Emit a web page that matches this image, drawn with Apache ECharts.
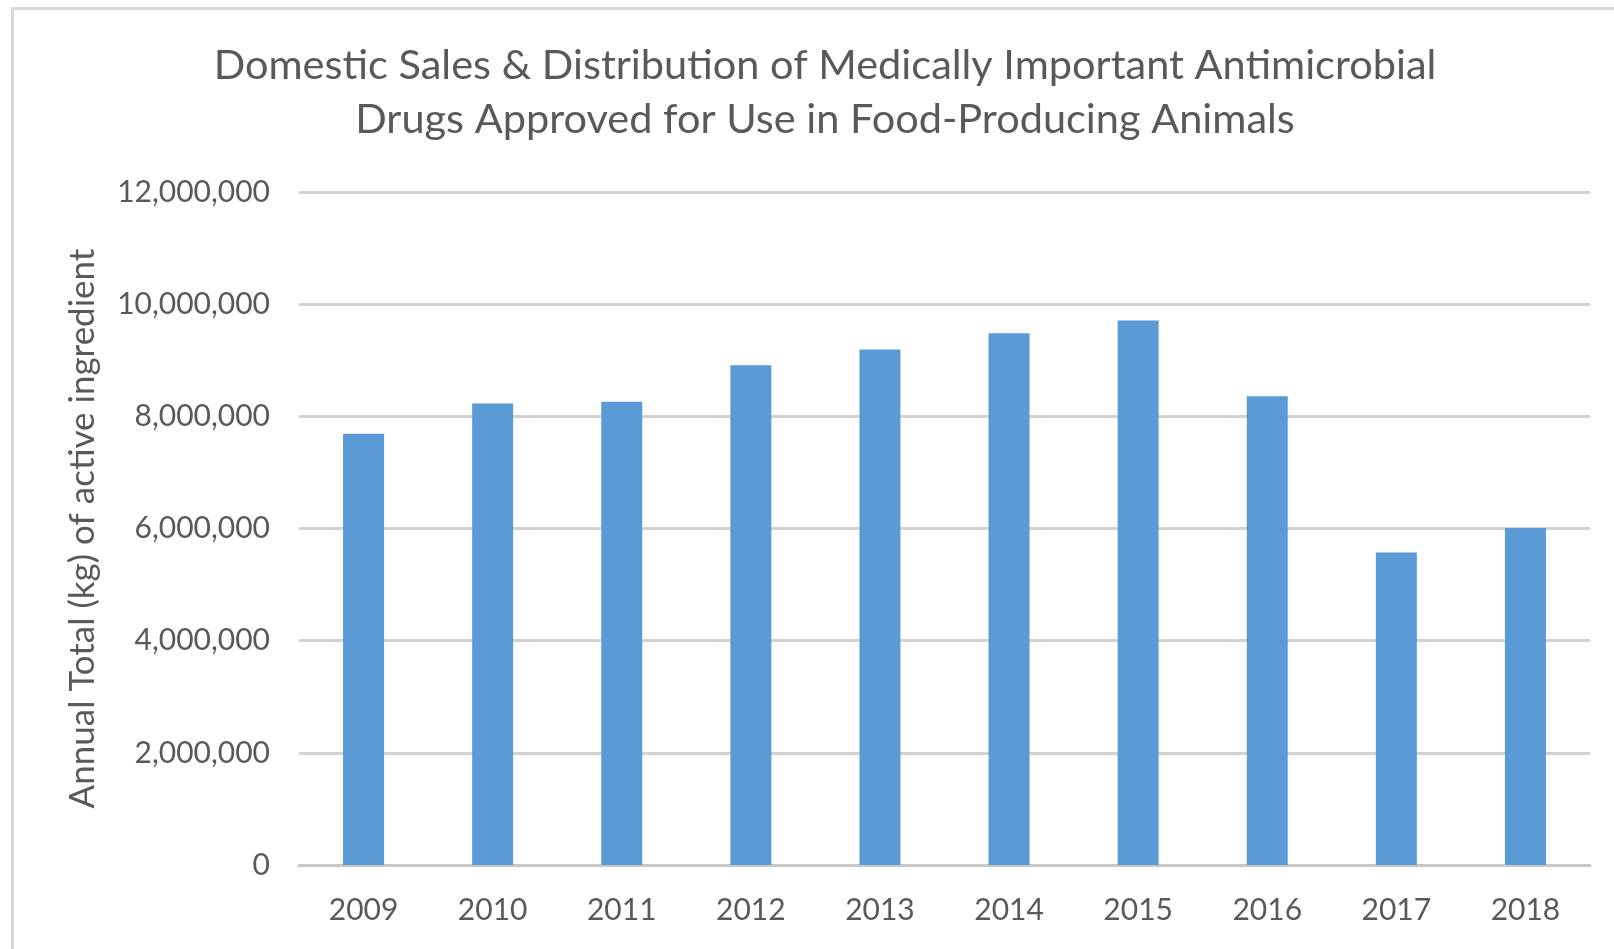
<!DOCTYPE html>
<html>
<head>
<meta charset="utf-8">
<style>
  html, body { margin: 0; padding: 0; background: #ffffff; }
  #chart { width: 1614px; height: 949px; }
</style>
<script src="https://cdn.jsdelivr.net/npm/echarts@6/dist/echarts.min.js"></script>
</head>
<body>
<div id="chart"></div>
<script>
// Annual kg of medically important antimicrobials sold for food-producing animals
const years = ['2009', '2010', '2011', '2012', '2013', '2014', '2015', '2016', '2017', '2018'];
const totalsKg = [7690000, 8230000, 8260000, 8910000, 9190000, 9480000, 9710000, 8360000, 5570000, 6010000];
const titleLines = [
  'Domestic Sales & Distribution of Medically Important Antimicrobial',
  'Drugs Approved for Use in Food-Producing Animals'
];
const yAxisName = 'Annual Total (kg) of active ingredient';

const FONT = 'Lato, "Open Sans", sans-serif';
const TEXT = '#595959';

const chart = echarts.init(document.getElementById('chart'), null, { renderer: 'canvas' });

chart.setOption({
  backgroundColor: '#ffffff',
  animation: false,
  title: {
    text: titleLines.join('\n'),
    left: 820,
    top: 33,
    textAlign: 'center',
    textStyle: {
      fontFamily: FONT,
      fontWeight: 'normal',
      fontSize: 41.5,
      lineHeight: 54.5,
      color: TEXT
    }
  },
  graphic: [{
    // chart area border (left and top edges visible)
    type: 'rect',
    left: 10,
    top: 6,
    shape: { width: 1700, height: 1000 },
    style: { fill: 'none', stroke: '#d9d9d9', lineWidth: 3 },
    silent: true,
    z: -1
  }],
  grid: {
    left: 299,
    right: 24,
    top: 192,
    bottom: 84,
    containLabel: false
  },
  xAxis: {
    type: 'category',
    data: years,
    axisLine: { show: true, lineStyle: { color: '#c8c8c8', width: 3 } },
    axisTick: { show: false },
    axisLabel: {
      fontFamily: FONT,
      fontSize: 30,
      color: TEXT,
      margin: 30
    }
  },
  yAxis: {
    type: 'value',
    min: 0,
    max: 12000000,
    interval: 2000000,
    name: yAxisName,
    nameLocation: 'middle',
    nameGap: 199,
    nameTextStyle: {
      fontFamily: FONT,
      fontSize: 35,
      color: TEXT
    },
    axisLine: { show: false },
    axisTick: { show: false },
    axisLabel: {
      fontFamily: FONT,
      fontSize: 30,
      color: TEXT,
      margin: 29,
      formatter: v => v.toLocaleString('en-US')
    },
    splitLine: { show: true, lineStyle: { color: '#d2d2d2', width: 3 } }
  },
  series: [{
    type: 'bar',
    data: totalsKg,
    barWidth: 41,
    itemStyle: { color: '#5b9bd5' }
  }]
});
</script>
</body>
</html>
